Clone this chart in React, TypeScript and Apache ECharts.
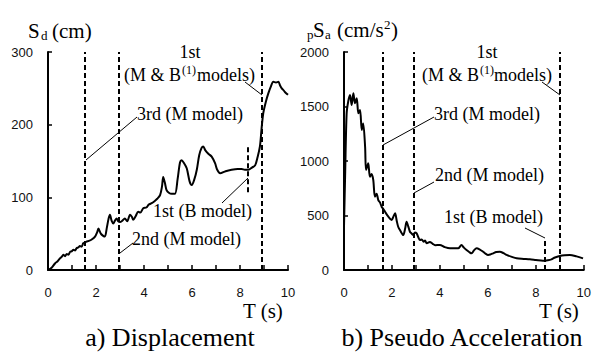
import React, { useEffect, useRef } from "react";
import * as echarts from "echarts";

// ---- data ----
const xTicks = [0, 2, 4, 6, 8, 10];
const sdData: [number, number][] = [
  [0, 0], [0.15, 3], [0.29, 9], [0.4, 12], [0.5, 16], [0.57, 18], [0.64, 21], [0.71, 19], [0.78, 22], [0.85, 21],
  [0.92, 25], [1.0, 26], [1.06, 28], [1.13, 27], [1.19, 30], [1.26, 31], [1.33, 33], [1.4, 32], [1.47, 37], [1.54, 38],
  [1.6, 39], [1.7, 40], [1.82, 42], [1.96, 46], [2.05, 52], [2.1, 57], [2.2, 50], [2.3, 47], [2.37, 46], [2.45, 58],
  [2.52, 70], [2.58, 76], [2.65, 68], [2.72, 64], [2.79, 68], [2.86, 71], [2.93, 67], [3.0, 66], [3.1, 68], [3.2, 71],
  [3.3, 67], [3.42, 76], [3.5, 73], [3.55, 69], [3.65, 74], [3.76, 80], [3.85, 79], [3.97, 85], [4.1, 86], [4.2, 90],
  [4.32, 92], [4.45, 95], [4.55, 98], [4.67, 103], [4.75, 115], [4.8, 128], [4.87, 120], [4.94, 110], [5.05, 106], [5.15, 105],
  [5.29, 105], [5.4, 125], [5.5, 148], [5.57, 151], [5.65, 148], [5.78, 140], [5.9, 122], [5.99, 117], [6.1, 125], [6.2, 138],
  [6.3, 158], [6.4, 168], [6.47, 170], [6.55, 165], [6.68, 160], [6.82, 156], [6.96, 147], [7.05, 138], [7.17, 133], [7.4, 136],
  [7.65, 138], [7.9, 139], [8.07, 139], [8.2, 138], [8.35, 138], [8.5, 141], [8.63, 144], [8.73, 155], [8.83, 170], [8.9, 195],
  [8.97, 216], [9.08, 232], [9.18, 243], [9.28, 252], [9.39, 259], [9.5, 258], [9.6, 259], [9.67, 254], [9.74, 250], [9.8, 248],
  [9.87, 245], [10.0, 241],
];
const saData: [number, number][] = [
  [0, 400], [0.05, 900], [0.11, 1437], [0.18, 1550], [0.25, 1605], [0.32, 1514], [0.39, 1621], [0.46, 1529], [0.53, 1575], [0.6, 1437],
  [0.67, 1468], [0.74, 1284], [0.8, 1345], [0.88, 1131], [0.92, 917], [1.01, 979], [1.08, 856], [1.15, 880], [1.22, 826], [1.29, 673],
  [1.36, 700], [1.43, 642], [1.5, 620], [1.57, 581], [1.64, 560], [1.71, 535], [1.78, 510], [1.85, 489], [1.92, 470], [1.99, 459],
  [2.06, 490], [2.13, 520], [2.2, 450], [2.26, 397], [2.35, 360], [2.47, 321], [2.55, 380], [2.61, 443], [2.68, 400], [2.75, 351],
  [2.82, 335], [2.89, 321], [2.96, 345], [3.03, 336], [3.1, 300], [3.17, 275], [3.24, 280], [3.32, 260], [3.38, 270], [3.45, 245],
  [3.58, 258], [3.7, 240], [3.8, 228], [4.0, 229], [4.2, 210], [4.42, 199], [4.6, 200], [4.76, 199], [4.9, 229], [5.0, 205],
  [5.11, 183], [5.22, 165], [5.32, 153], [5.42, 180], [5.53, 199], [5.65, 190], [5.8, 168], [5.9, 150], [6.01, 138], [6.1, 142],
  [6.22, 153], [6.35, 165], [6.5, 168], [6.65, 155], [6.78, 138], [7.0, 120], [7.2, 107], [7.5, 102], [7.75, 98], [8.0, 92],
  [8.3, 85], [8.5, 90], [8.65, 98], [8.8, 115], [9.0, 128], [9.2, 135], [9.42, 138], [9.7, 125], [9.97, 107],
];
const sdModePeriods = [1.55, 2.95, 8.92];
const sdBModel: [number, number][] = [[8.33, 107], [8.33, 170]];
const saModePeriods = [1.62, 2.92, 9.0];
const saBModel: [number, number][] = [[8.37, 0], [8.37, 275]];

const SERIF_STACK = '"Liberation Serif", "Times New Roman", Times, serif';
const SANS = "Liberation Sans";

function txt(x: number, y: number, text: string, size: number, align = "left") {
  return {
    type: "text",
    x,
    y,
    style: { text, font: `${size}px ${SERIF_STACK}`, fill: "#000", align, verticalAlign: "middle" },
  };
}
function seg(x1: number, y1: number, x2: number, y2: number) {
  return { type: "line", shape: { x1, y1, x2, y2 }, style: { stroke: "#000", lineWidth: 1 } };
}

export default function App() {
  const ref = useRef<HTMLDivElement>(null);
  useEffect(() => {
    if (!ref.current) return;
    const chart = echarts.init(ref.current, null, { renderer: "svg" });
    const xAxisBase = {
      type: "value",
      min: 0,
      max: 10,
      interval: 1,
      axisLine: { show: true, onZero: false, lineStyle: { color: "#000", width: 2 } },
      axisTick: { show: true, inside: true, length: 5, lineStyle: { color: "#000", width: 1.5 } },
      axisLabel: {
        margin: 16,
        fontFamily: SANS,
        fontSize: 13,
        color: "#111",
        formatter: (v: number) => (xTicks.indexOf(v) >= 0 ? String(v) : ""),
      },
      splitLine: { show: false },
    };
    const yAxisBase = {
      type: "value",
      min: 0,
      axisLine: { show: true, lineStyle: { color: "#000", width: 2 } },
      axisTick: { show: true, inside: true, length: 4, lineStyle: { color: "#000", width: 1.5 } },
      axisLabel: { margin: 15, fontFamily: SANS, fontSize: 13, color: "#111", formatter: (v: number) => String(v) },
      splitLine: { show: false },
    };
    const dashStyle = { color: "#000", width: 2, type: [5, 3] as any };
    const mk = (periods: number[], b: [number, number][]) => ({
      silent: true,
      symbol: "none",
      label: { show: false },
      lineStyle: dashStyle,
      data: [
        ...periods.map((p) => ({ xAxis: p })),
        [{ coord: b[0] }, { coord: b[1] }],
      ],
    });
    chart.setOption({
      animation: false,
      grid: [
        { left: 48, right: 306, top: 52, bottom: 82 },
        { left: 344, right: 10, top: 52, bottom: 82 },
      ],
      xAxis: [
        { ...xAxisBase, gridIndex: 0 },
        { ...xAxisBase, gridIndex: 1 },
      ],
      yAxis: [
        { ...yAxisBase, gridIndex: 0, max: 300, interval: 100 },
        { ...yAxisBase, gridIndex: 1, max: 2000, interval: 500 },
      ],
      series: [
        {
          type: "line",
          xAxisIndex: 0,
          yAxisIndex: 0,
          data: sdData,
          showSymbol: false,
          smooth: 0.3,
          lineStyle: { color: "#000", width: 2 },
          markLine: mk(sdModePeriods, sdBModel),
        },
        {
          type: "line",
          xAxisIndex: 1,
          yAxisIndex: 1,
          data: saData,
          showSymbol: false,
          smooth: 0.3,
          lineStyle: { color: "#000", width: 2 },
          markLine: mk(saModePeriods, saBModel),
        },
      ],
      graphic: [
        // left titles
        txt(28, 31, "S", 21),
        txt(41, 35, "d", 13),
        txt(52, 31, "(cm)", 21),
        // right titles
        txt(307, 34, "p", 13),
        txt(313, 30, "S", 21),
        txt(325, 34, "a", 13),
        txt(337, 30, "(cm/s", 21),
        txt(384, 24, "2", 13),
        txt(391, 30, ")", 21),
        // left annotations
        txt(190, 52, "1st", 18, "center"),
        txt(124, 75, "(M & B", 18),
        txt(182, 70, "(1)", 12),
        txt(197, 75, "models)", 18),
        txt(137, 114, "3rd (M model)", 18),
        txt(153, 211, "1st (B model)", 18),
        txt(132, 239, "2nd (M model)", 18),
        txt(243, 311, "T (s)", 21),
        txt(170, 337, "a) Displacement", 26, "center"),
        seg(86, 160, 137, 117),
        seg(245, 82, 262, 95),
        seg(248, 178, 222, 203),
        seg(120, 253, 133, 243),
        // right annotations
        txt(487, 52, "1st", 18, "center"),
        txt(422, 75, "(M & B", 18),
        txt(480, 70, "(1)", 12),
        txt(494, 75, "models)", 18),
        txt(434, 114, "3rd (M model)", 18),
        txt(435, 175, "2nd (M model)", 18),
        txt(444, 217, "1st (B model)", 18),
        txt(539, 311, "T (s)", 21),
        txt(462, 337, "b) Pseudo Acceleration", 26, "center"),
        seg(383, 145, 434, 117),
        seg(542, 82, 560, 95),
        seg(545, 238, 525, 228),
        seg(414, 193, 434, 182),
      ],
    });
    return () => chart.dispose();
  }, []);
  return <div ref={ref} style={{ width: 594, height: 352, position: "absolute", left: 0, top: 0, background: "#fff" }} />;
}
